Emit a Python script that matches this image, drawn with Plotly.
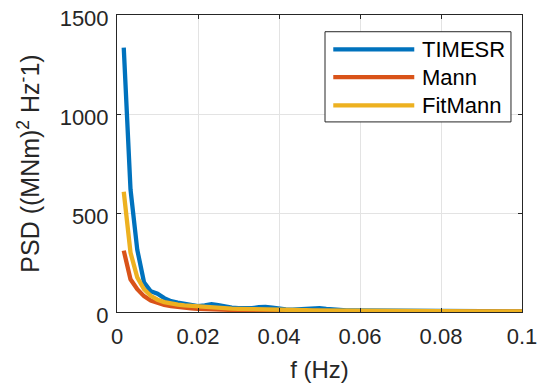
import plotly.graph_objects as go

# frequency bins (Hz): k/600 for k = 1..60
freq_bins = list(range(1, 61))
freq = [k / 600 for k in freq_bins]

psd_timesr = [1335, 620, 315, 150, 105, 92, 70, 55, 48, 42,
              36, 30, 34, 40, 35, 27, 22, 20, 18, 20,
              24, 26, 22, 16, 13, 12, 14, 17, 19, 20,
              16, 12, 9, 8, 8, 7.5, 7, 6.5, 6, 6.2,
              5.8, 5.5, 5.2, 5.3, 5, 4.8, 4.6, 4.7, 4.4, 4.2,
              4.3, 4.0, 3.9, 3.8, 3.9, 3.6, 3.5, 3.4, 3.3, 3.2]

psd_mann = [310, 165, 115, 80, 58, 45, 36, 30, 25, 21,
            18, 16, 14.2, 12.7, 11.4, 10.4, 9.5, 8.7, 8.0, 7.4,
            6.9, 6.4, 6.0, 5.7, 5.3, 5.0, 4.7, 4.5, 4.3, 4.0,
            3.85, 3.7, 3.55, 3.4, 3.3, 3.15, 3.05, 2.95, 2.85, 2.75,
            2.65, 2.55, 2.5, 2.4, 2.35, 2.25, 2.2, 2.1, 2.05, 2.0,
            1.95, 1.9, 1.85, 1.8, 1.75, 1.7, 1.65, 1.6, 1.55, 1.5]

psd_fitmann = [607, 300, 175, 115, 82, 62, 50, 42, 37, 33,
               30, 28, 25.1, 22.6, 20.6, 18.9, 17.4, 16.1, 14.9, 13.9,
               13.0, 12.2, 11.5, 10.8, 10.2, 9.7, 9.2, 8.8, 8.4, 8.0,
               7.6, 7.3, 7.0, 6.7, 6.5, 6.2, 6.0, 5.8, 5.6, 5.4,
               5.2, 5.0, 4.85, 4.7, 4.6, 4.45, 4.3, 4.2, 4.1, 4.0,
               3.85, 3.75, 3.65, 3.57, 3.48, 3.4, 3.3, 3.23, 3.15, 3.1]

series_names = ["TIMESR", "Mann", "FitMann"]
series_colors = ["#0072BD", "#D95319", "#EDB120"]
series_values = [psd_timesr, psd_mann, psd_fitmann]

x_ticks = [0, 0.02, 0.04, 0.06, 0.08, 0.1]
x_tick_labels = ["0", "0.02", "0.04", "0.06", "0.08", "0.1"]
y_ticks = [0, 500, 1000, 1500]
y_tick_labels = ["0", "500", "1000", "1500"]

FONT = "Liberation Sans, Arial, Helvetica, sans-serif"
INK = "#262626"

fig = go.Figure()
for name, color, vals in zip(series_names, series_colors, series_values):
    fig.add_trace(go.Scatter(x=freq, y=vals, mode="lines", name=name,
                             line=dict(color=color, width=4.3),
                             showlegend=False))

# custom legend (MATLAB style with long line samples)
lx0, lx1, ly0, ly1 = 0.5136, 0.9728, 0.640, 0.9437
fig.add_shape(type="rect", xref="paper", yref="paper", x0=lx0, x1=lx1, y0=ly0, y1=ly1,
              line=dict(color=INK, width=1), fillcolor="white", layer="above")
row_y = [0.884, 0.791, 0.696]
for name, color, yy in zip(series_names, series_colors, row_y):
    fig.add_shape(type="line", xref="paper", yref="paper", x0=0.534, x1=0.734, y0=yy, y1=yy,
                  line=dict(color=color, width=4.3), layer="above")
    fig.add_annotation(xref="paper", yref="paper", x=0.748, y=yy, text=name, showarrow=False,
                       xanchor="left", yanchor="middle", font=dict(family=FONT, size=22, color="black"))

axis_common = dict(showline=True, mirror="ticks", linecolor=INK, linewidth=1,
                   ticks="inside", ticklen=4, tickcolor=INK, tickwidth=1,
                   showgrid=True, gridcolor="#e3e3e3", gridwidth=1, zeroline=False,
                   automargin=False, ticklabeloverflow="allow",
                   tickfont=dict(family=FONT, size=22, color=INK))

fig.update_xaxes(range=[0, 0.1], tickvals=x_ticks, ticktext=x_tick_labels,
                 ticklabelstandoff=5,
                 title=dict(text="f (Hz)", font=dict(family=FONT, size=24, color=INK), standoff=12),
                 **axis_common)
fig.update_yaxes(range=[0, 1500], tickvals=y_ticks, ticktext=y_tick_labels,
                 ticklabelstandoff=3, ticklabelshift=3,
                 title=dict(text="PSD ((MNm)<sup>2</sup> Hz<sup>-</sup>1)",
                            font=dict(family=FONT, size=25, color=INK), standoff=12),
                 **axis_common)

fig.update_layout(width=547, height=387, paper_bgcolor="white", plot_bgcolor="white",
                  margin=dict(l=109, r=33, t=7, b=83), showlegend=False)

fig.write_html("out.html")
